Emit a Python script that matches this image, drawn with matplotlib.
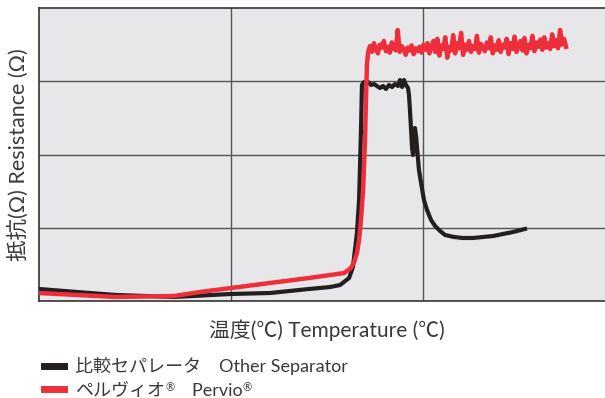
import numpy as np
import matplotlib
matplotlib.use("Agg")
import matplotlib.pyplot as plt
from matplotlib.lines import Line2D

plt.rcParams['font.family'] = ['Lato', 'Noto Sans CJK JP', 'DejaVu Sans']

# ---- data (x: grid units of temperature, y: grid units of resistance) ----
other_x = [0.000, 0.198, 0.401, 0.703, 1.000, 1.203, 1.406, 1.516, 1.568, 1.615,
           1.635, 1.656, 1.667, 1.677, 1.682, 1.693,
           1.698, 1.714, 1.729, 1.745, 1.760, 1.776, 1.792, 1.807, 1.823, 1.839,
           1.854, 1.870, 1.880, 1.891, 1.901, 1.911, 1.922,
           1.927, 1.932, 1.938, 1.943, 1.948, 1.953, 1.958, 1.964, 1.969, 1.979,
           1.990, 2.005, 2.021, 2.042, 2.063, 2.089, 2.115, 2.161, 2.208, 2.260,
           2.313, 2.365, 2.417, 2.469, 2.531]
other_y = [0.164, 0.123, 0.082, 0.055, 0.096, 0.109, 0.164, 0.191, 0.218, 0.314,
           0.464, 0.928, 1.379, 2.330, 2.950, 2.990,
           2.962, 2.990, 2.949, 2.962, 2.935, 2.908, 2.935, 2.894, 2.949, 2.921,
           2.962, 2.935, 3.017, 2.921, 3.017, 2.949, 2.908,
           2.812, 2.608, 2.334, 2.089, 1.993, 2.130, 2.362, 2.250, 2.089, 1.788,
           1.611, 1.379, 1.242, 1.106, 1.024, 0.956, 0.901, 0.874, 0.860, 0.860,
           0.874, 0.887, 0.915, 0.942, 0.983]

pervio_rise_x = [0.000, 0.198, 0.401, 0.703, 0.839, 1.000, 1.203, 1.406, 1.516, 1.589,
                 1.625, 1.641, 1.656, 1.667, 1.677, 1.688, 1.698, 1.703, 1.708, 1.714]
pervio_rise_y = [0.109, 0.082, 0.055, 0.068, 0.123, 0.177, 0.246, 0.314, 0.355, 0.382,
                 0.451, 0.532, 0.655, 0.833, 1.106, 1.515, 2.198, 2.744, 3.222, 3.399]
pervio_plateau_y = [3.48, 3.40, 3.52, 3.44, 3.38, 3.50, 3.46, 3.55, 3.41, 3.47,
                    3.39, 3.53, 3.45, 3.42, 3.70, 3.40, 3.48, 3.44, 3.36, 3.46,
                    3.42, 3.49, 3.37, 3.45, 3.41, 3.47, 3.39, 3.50, 3.43, 3.52,
                    3.38, 3.46, 3.55, 3.40, 3.58, 3.35, 3.49, 3.44, 3.60, 3.32,
                    3.47, 3.42, 3.63, 3.38, 3.52, 3.45, 3.66, 3.36, 3.50, 3.43,
                    3.55, 3.40, 3.48, 3.44, 3.62, 3.39, 3.51, 3.46, 3.41, 3.53,
                    3.45, 3.60, 3.38, 3.49, 3.43, 3.56, 3.40, 3.50, 3.46, 3.58,
                    3.37, 3.52, 3.44, 3.61, 3.40, 3.48, 3.55, 3.42, 3.59, 3.38,
                    3.50, 3.45, 3.62, 3.41, 3.53, 3.47, 3.57, 3.43, 3.60, 3.46,
                    3.52, 3.44, 3.64, 3.48, 3.56, 3.45, 3.70, 3.50, 3.58, 3.47]
pervio_plateau_x = np.linspace(1.724, 2.745, len(pervio_plateau_y))

label_other = "比較セパレータ\u3000Other Separator"
label_pervio_jp = "ペルヴィオ"
label_pervio_en = "\u3000Pervio"
reg_mark = "®"
xlabel = "温度(℃) Temperature (℃)"
ylabel = "抵抗(Ω) Resistance (Ω)"

BLACK = "#231f20"
RED = "#ee2e3a"
TEXT = "#3a3a3a"

fig = plt.figure(figsize=(6.05, 3.98), dpi=100)
ax = fig.add_axes([39/605, 97/398, 576/605, 293/398])
ax.set_facecolor("#e7e7e9")
ax.set_xlim(0, 3)
ax.set_ylim(0, 4)
ax.set_xticks([1, 2])
ax.set_yticks([1, 2, 3])
ax.tick_params(length=0, labelbottom=False, labelleft=False)
ax.grid(True, color="#555555", linewidth=1.0)
for s in ax.spines.values():
    s.set_color("#333333")
    s.set_linewidth(1.2)

px = list(pervio_rise_x) + list(pervio_plateau_x)
py = list(pervio_rise_y) + list(pervio_plateau_y)
ax.plot(other_x, other_y, color=BLACK, lw=3.0, solid_joinstyle='round', zorder=3)
ax.plot(px, py, color=RED, lw=3.2, solid_joinstyle='round', zorder=4)

ax.set_xlabel(xlabel, fontsize=15, color=TEXT, labelpad=13)
ax.set_ylabel(ylabel, fontsize=15.5, color=TEXT, labelpad=7)

handles = [Line2D([], [], color=BLACK, lw=5), Line2D([], [], color=RED, lw=5)]
leg = fig.legend(handles, [label_other, label_pervio_jp], loc="upper left",
                 bbox_to_anchor=(0.072, 0.103), frameon=False, fontsize=13,
                 handlelength=1.15, handletextpad=0.6, labelspacing=0.42,
                 borderaxespad=0, borderpad=0, labelcolor=TEXT)
fig.canvas.draw()
t_jp = leg.get_texts()[1]
bb = t_jp.get_window_extent()
inv = fig.transFigure.inverted()
x1, y0 = inv.transform((bb.x1, bb.y0))
_, ytop = inv.transform((bb.x1, bb.y1))
r1 = fig.text(x1, ytop, reg_mark, ha="left", va="top", fontsize=8, color=TEXT)
fig.canvas.draw()
rb = r1.get_window_extent()
xr1, _ = inv.transform((rb.x1, rb.y0))
en = fig.text(xr1, y0, label_pervio_en, ha="left", va="bottom", fontsize=13, color=TEXT)
fig.canvas.draw()
eb = en.get_window_extent()
xe1, _ = inv.transform((eb.x1, eb.y0))
fig.text(xe1, ytop, reg_mark, ha="left", va="top", fontsize=8, color=TEXT)

fig.savefig("out.png", dpi=100)
